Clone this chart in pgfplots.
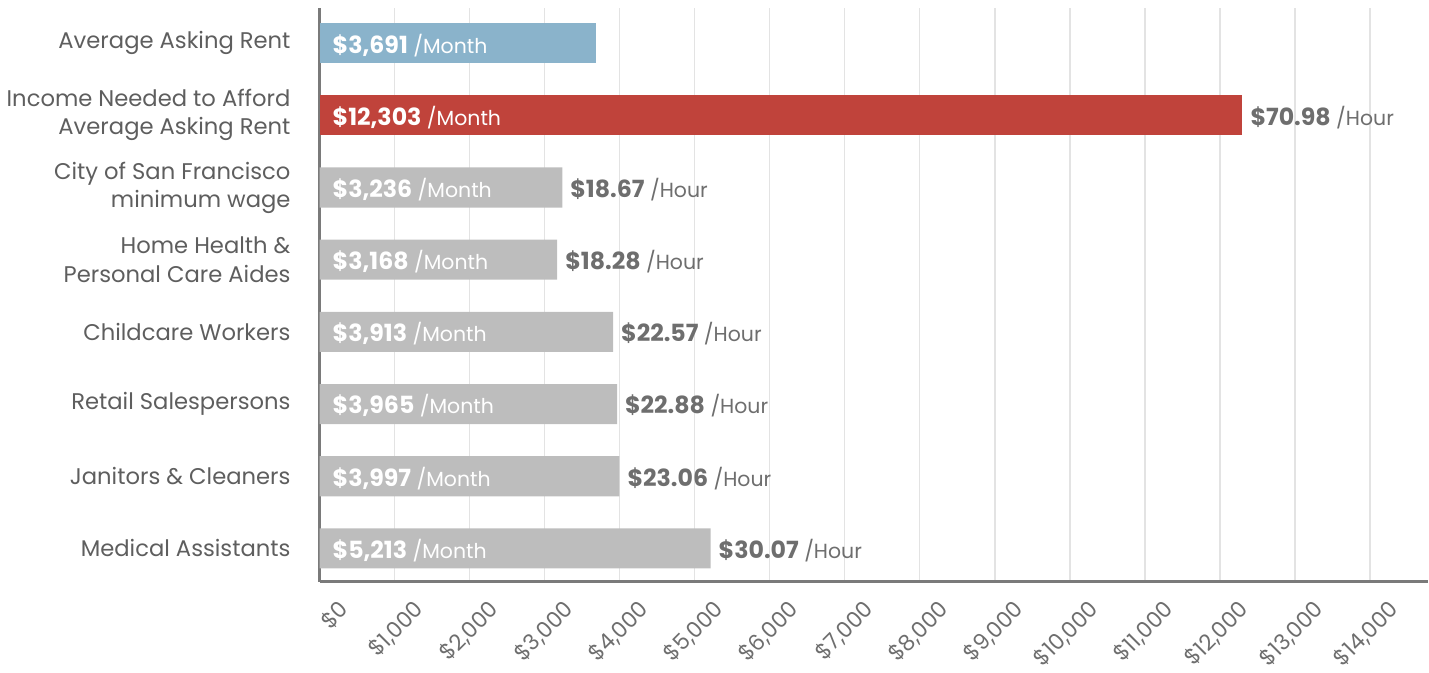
\documentclass[border=0pt]{standalone}
\usepackage{pgfplots}
\usepackage{pgfplotstable}
\pgfplotsset{compat=1.18}
\usepackage{fontspec}
\setmainfont{Poppins}
\definecolor{barblue}{HTML}{8AB3CB}
\definecolor{barred}{HTML}{C0433B}
\definecolor{bargray}{HTML}{BDBDBD}
\definecolor{labgray}{HTML}{5E5E5E}
\definecolor{valgray}{HTML}{6E6E6E}
\definecolor{gridgray}{HTML}{E3E3E3}
\definecolor{axgray}{HTML}{7A7A7A}

\pgfplotstableread{
y val zero
7 3691 0
6 12303 0
5 3236 0
4 3168 0
3 3913 0
2 3965 0
1 3997 0
0 5213 0
}\monthtab

\pgfplotstableread{
y val hour
6 12303 70.98
5 3236 18.67
4 3168 18.28
3 3913 22.57
2 3965 22.88
1 3997 23.06
0 5213 30.07
}\hourtab

\newcommand\bigb[1]{{\fontsize{11.8}{13}\selectfont\bfseries #1}}

\begin{document}
\begin{tikzpicture}
\begin{axis}[
  scale only axis,
  width=552.5pt, height=286pt,
  xmin=0, xmax=14770,
  ymin=-0.458, ymax=7.486,
  axis x line=bottom, axis y line=left,
  axis line style={axgray, line width=1.5pt, -},
  xtick={0,1000,...,14000},
  scaled x ticks=false,
  xmajorgrids,
  grid style={gridgray, line width=0.8pt},
  major tick length=0pt,
  ytick={0,...,7},
  yticklabels={Medical Assistants, Janitors \& Cleaners, Retail Salespersons, Childcare Workers, {Home Health \&\\Personal Care Aides}, {City of San Francisco\\minimum wage}, {Income Needed to Afford\\Average Asking Rent}, Average Asking Rent},
  yticklabel style={align=right, font=\fontsize{11.3}{14}\selectfont, text=labgray, xshift=-11pt},
  xticklabel={\$\pgfmathprintnumber{\tick}},
  xticklabel style={rotate=45, anchor=north east, font=\fontsize{11}{12}\selectfont, text=valgray, yshift=-11pt, xshift=1.5pt, inner sep=1pt},
  /pgf/number format/1000 sep={,},
  /pgf/number format/assume math mode=true,
]
\addplot[xbar, bar width=0.555, bar shift=0pt, fill=barblue, draw=none] coordinates {(3691,7)};
\addplot[xbar, bar width=0.555, bar shift=0pt, fill=barred, draw=none] coordinates {(12303,6)};
\addplot[xbar, bar width=0.555, bar shift=0pt, fill=bargray, draw=none] coordinates {(3236,5) (3168,4) (3913,3) (3965,2) (3997,1) (5213,0)};
\addplot[draw=none, point meta=explicit,
  nodes near coords={\bigb{\$\pgfmathprintnumber{\pgfplotspointmeta}} /Month},
  nodes near coords style={anchor=west, text=white, font=\fontsize{10.2}{12}\selectfont, xshift=3pt, yshift=-1pt}]
  table[x=zero, y=y, meta=val]{\monthtab};
\addplot[draw=none, point meta=explicit,
  nodes near coords={\bigb{\$\pgfmathprintnumber[fixed, fixed zerofill, precision=2]{\pgfplotspointmeta}} /Hour},
  nodes near coords style={anchor=west, text=valgray, font=\fontsize{10.2}{12}\selectfont, xshift=0.5pt, yshift=-1pt}]
  table[x=val, y=y, meta=hour]{\hourtab};
\end{axis}
\path ([yshift=4pt]current axis.north);
\end{tikzpicture}
\end{document}
